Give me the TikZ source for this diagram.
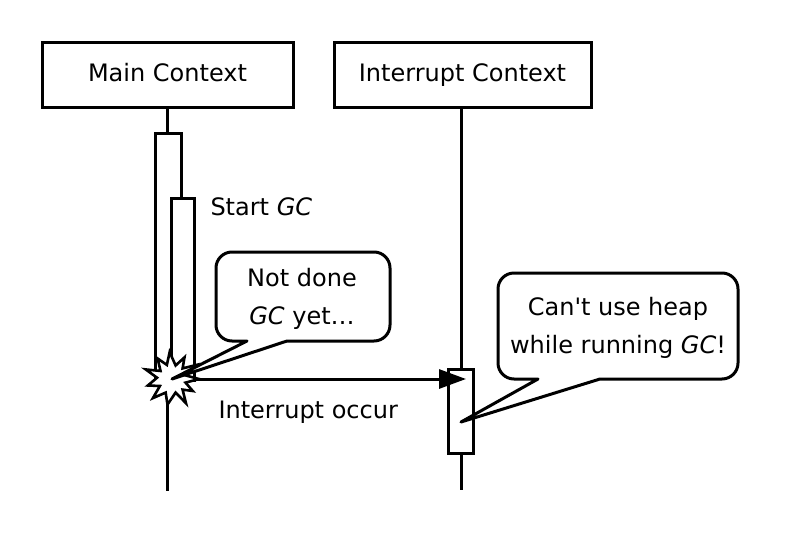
\documentclass[tikz,border=0pt]{standalone}
\usepackage{fontspec}
\setmainfont{DejaVu Sans}
\usetikzlibrary{arrows.meta}
\begin{document}
\begin{tikzpicture}[x=1pt,y=-1pt,line width=3pt,
  txt/.style={font=\fontsize{24}{38}\selectfont},
  ctxbox/.style={draw,fill=white,inner sep=0pt,minimum height=65pt,text height=18pt,text depth=5pt,txt},
  actbox/.style={draw,fill=white,inner sep=0pt},
  lbl/.style={txt,anchor=west,inner sep=0pt},
  ctext/.style={txt,align=center,inner sep=0pt},
  callout/.style={draw,fill=white,line join=round}]
\useasboundingbox (0,0) rectangle (800,533);
% heads
\node[ctxbox,minimum width=251pt] (mc) at (167.5,74.5) {Main Context};
\node[ctxbox,minimum width=257pt] (ic) at (462.5,74.5) {Interrupt Context};
\coordinate (mend) at (167.5,491);
\coordinate (iend) at (461,490);
\draw (mc.south) -- (mend);
\draw (ic.south -| iend) -- (iend);
% activations
\node[actbox,minimum width=26pt,minimum height=247pt] (a1) at (168,256.5) {};
\node[actbox,minimum width=23pt,minimum height=182pt] (a2) at (182.5,289) {};
\node[actbox,minimum width=25pt,minimum height=84pt] (ia) at (460.5,411) {};
% explosion
\coordinate (bang) at (172,379);
\coordinate (hit) at (466,379);
\draw[-{Triangle[length=27pt,width=19pt]}] (bang) -- (hit);
\draw[fill=white,line width=2.6pt,shift={(bang)}]
  (0:27) -- (15:14) -- (30:24) -- (45:15) -- (60:28) -- (75:14) -- (100:26)
  -- (115:15) -- (135:27) -- (150:14) -- (165:25) -- (185:15) -- (200:28)
  -- (215:14) -- (235:25) -- (250:15) -- (265:27) -- (285:14) -- (300:25)
  -- (315:15) -- (330:28) -- (345:14) -- cycle;
% labels
\node[lbl] (sgc) at (209,207) {Start \textit{GC}};
\node[lbl] (io) at (217,412) {Interrupt occur};
% callout 1
\draw[callout] (247,341) -- (bang) -- (287,341) [rounded corners=16] -- (390,341)
  -- (390,252) -- (216,252) -- (216,341) [sharp corners] -- cycle;
\node[ctext] (c1) at (302,299) {Not done\\\textit{GC} yet…};
% callout 2
\coordinate (ipt) at (461,422);
\draw[callout] (538,379) -- (ipt) -- (600,379) [rounded corners=16] -- (738,379)
  -- (738,273) -- (498,273) -- (498,379) [sharp corners] -- cycle;
\node[ctext] (c2) at (618,328) {Can\textquotesingle t use heap\\while running \textit{GC}!};
\end{tikzpicture}
\end{document}
